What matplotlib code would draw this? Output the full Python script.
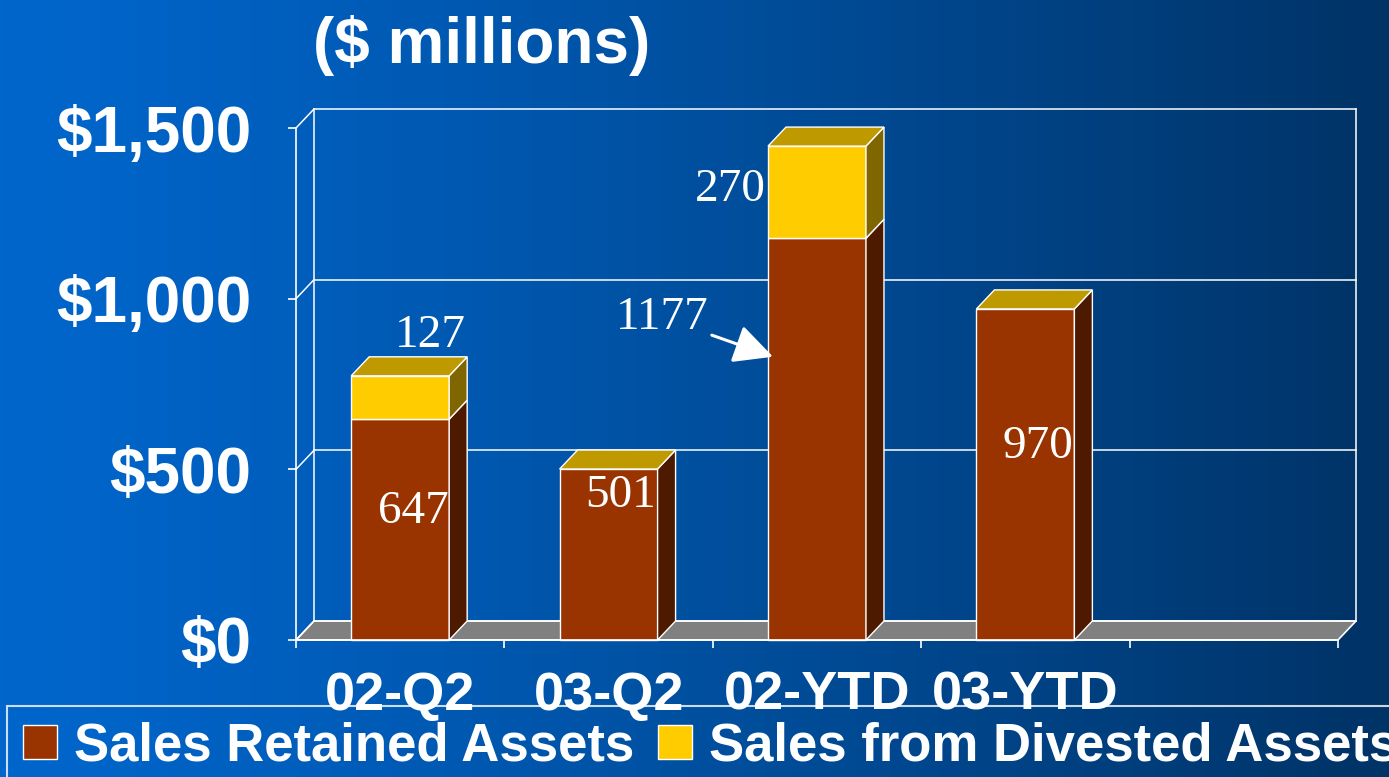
import numpy as np
import matplotlib.pyplot as plt
from matplotlib.patches import Polygon, Patch

# data
categories = ["02-Q2", "03-Q2", "02-YTD", "03-YTD"]
retained = [647, 501, 1177, 970]
divested = [127, 0, 270, 0]
yticks = [0, 500, 1000, 1500]
ytick_labels = ["$0", "$500", "$1,000", "$1,500"]
series_names = ["Sales Retained Assets", "Sales from Divested Assets"]

W, H = 1389, 777
fig = plt.figure(figsize=(W / 100, H / 100), dpi=100)

# background gradient, bright blue on the left to navy on the right
bg = fig.add_axes([0, 0, 1, 1])
t = np.linspace(0, 1, 256) ** 1.2
c_left = np.array([0x00, 0x66, 0xCC]) / 255
c_right = np.array([0x00, 0x33, 0x66]) / 255
grad = c_left[None, :] * (1 - t[:, None]) + c_right[None, :] * t[:, None]
bg.imshow(grad[None, :, :], aspect='auto', extent=[0, 1, 0, 1])
bg.axis('off')

ax = fig.add_axes([296 / W, 137 / H, 1042 / W, 512 / H])
ax.set_xlim(-0.5, 4.5)
ax.set_ylim(0, 1500)
ax.patch.set_alpha(0)

# depth of the 3d effect in data units
ddx = 18 / (1042 / 5)
ddy = 19 * 1500 / 512
x_lo, x_hi = -0.5, 4.5

# floor
ax.add_patch(Polygon([(x_lo, 0), (x_hi, 0), (x_hi + ddx, ddy), (x_lo + ddx, ddy)],
                     fc='#808080', ec='white', lw=1.2, clip_on=False, zorder=1))
# back wall grid + left wall diagonals
for v in yticks:
    ax.plot([x_lo + ddx, x_hi + ddx], [v + ddy, v + ddy], color='white', lw=1.1,
            clip_on=False, zorder=1)
    ax.plot([x_lo, x_lo + ddx], [v, v + ddy], color='white', lw=1.1, clip_on=False, zorder=1)
for xx in [x_lo + ddx, x_hi + ddx]:
    ax.plot([xx, xx], [ddy, 1500 + ddy], color='white', lw=1.1, clip_on=False, zorder=1)

RED, RED_SIDE = '#993300', '#4D1A00'
YEL, YEL_SIDE = '#FFCC00', '#806600'
TOP = '#BF9900'
bw = 0.47


def box(x0, x1, y0, y1, face, side, top=None):
    kw = dict(ec='white', lw=1, clip_on=False, zorder=3)
    ax.add_patch(Polygon([(x0, y0), (x1, y0), (x1, y1), (x0, y1)], fc=face, **kw))
    ax.add_patch(Polygon([(x1, y0), (x1 + ddx, y0 + ddy), (x1 + ddx, y1 + ddy), (x1, y1)],
                         fc=side, **kw))
    if top:
        ax.add_patch(Polygon([(x0, y1), (x1, y1), (x1 + ddx, y1 + ddy), (x0 + ddx, y1 + ddy)],
                             fc=top, **kw))


lab = dict(color='white', fontsize=34, family='Liberation Serif', zorder=5,
           textcoords='offset pixels', va='center', annotation_clip=False)
for i, (r, d) in enumerate(zip(retained, divested)):
    x0, x1 = i - bw / 2, i + bw / 2
    box(x0, x1, 0, r, RED, RED_SIDE, None if d else TOP)
    if d:
        box(x0, x1, r, r + d, YEL, YEL_SIDE, TOP)

# value labels
ax.annotate(str(retained[0]), (0, retained[0] / 2), xytext=(13, 18), ha='center', **lab)
ax.annotate(str(divested[0]), (0, retained[0] + divested[0] / 2), xytext=(30, 62),
            ha='center', **lab)
ax.annotate(str(retained[1]), (1, retained[1] / 2), xytext=(12, 59), ha='center', **lab)
ax.annotate(str(retained[3]), (3, retained[3] / 2), xytext=(12, 28), ha='center', **lab)
ax.annotate(str(divested[2]), (2 - bw / 2, retained[2] + divested[2] / 2), xytext=(-2, 2),
            ha='right', **lab)
ax.annotate(str(retained[2]), (2 - bw / 2 + 0.024, retained[2] * 0.705), xytext=(-64, 39),
            ha='right',
            arrowprops=dict(arrowstyle='-|>,head_length=1.2,head_width=0.6', color='white',
                            lw=2.2, mutation_scale=20, shrinkA=0, shrinkB=0),
            **lab)

# axes
for s in ['top', 'right']:
    ax.spines[s].set_visible(False)
for s in ['left', 'bottom']:
    ax.spines[s].set_color('white')
    ax.spines[s].set_linewidth(1.2)
    ax.spines[s].set_zorder(4)
ax.set_yticks(yticks)
ax.set_yticklabels(ytick_labels)
ax.set_xticks(range(len(categories)))
ax.set_xticklabels(categories)
ax.set_xticks(np.arange(x_lo, x_hi + 0.01, 1), minor=True)
ax.tick_params(axis='y', direction='out', length=6, width=1.2, color='white', pad=26,
               labelcolor='white', labelsize=46)
ax.tick_params(axis='x', which='major', length=0, pad=22, labelcolor='white', labelsize=39)
ax.tick_params(axis='x', which='minor', direction='out', length=6, width=1.2, color='white')
for lbl in ax.get_yticklabels() + ax.get_xticklabels():
    lbl.set_family('Liberation Sans')
    lbl.set_fontweight('bold')

fig.text(313 / W, 1 - 45 / H, "($ millions)", color='white', fontsize=46,
         family='Liberation Sans', fontweight='bold', va='center', ha='left')

handles = [Patch(fc=RED, ec='white', lw=1), Patch(fc=YEL, ec='white', lw=1)]
leg = fig.legend(handles, series_names, loc='upper left', bbox_to_anchor=(7 / W, 1 - 706 / H),
                 ncol=2, frameon=True, fancybox=False, borderaxespad=0, borderpad=0.3,
                 handlelength=0.65, handleheight=0.62, handletextpad=0.32, columnspacing=0.45,
                 prop={'family': 'Liberation Sans', 'weight': 'bold', 'size': 38})
leg.get_frame().set_facecolor('none')
leg.get_frame().set_edgecolor('white')
leg.get_frame().set_linewidth(1.5)
for txt in leg.get_texts():
    txt.set_color('white')

fig.savefig("out.png", dpi=100)
